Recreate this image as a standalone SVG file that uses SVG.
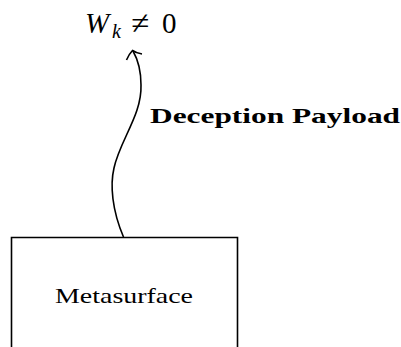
<svg xmlns="http://www.w3.org/2000/svg" width="401" height="347" viewBox="0 0 401 347">
<style>
.t{font-family:"Liberation Serif","DejaVu Serif",serif;fill:#000}
.ln{fill:none;stroke:#000;stroke-width:1.6}
</style>
<rect width="401" height="347" fill="#fff"/>
<g id="target">
<text class="t" x="85" y="33" font-size="29" font-style="italic">W</text>
<text class="t" x="112" y="38" font-size="20" font-style="italic">k</text>
<text class="t" x="131" y="34" font-size="33">≠</text>
<text class="t" x="162" y="33" font-size="29">0</text>
</g>
<g id="metasurface">
<path class="ln" d="M11.5,348 V237.5 H237.5 V348"/>
<text class="t" x="124" y="303" font-size="22" text-anchor="middle" textLength="138" lengthAdjust="spacingAndGlyphs">Metasurface</text>
</g>
<g id="connectors">
<path class="ln" d="M123.5,237 C112,210 110,185 114,168 C120,140 142,115 141,85 C141,70 137,58 133,51"/>
<path class="ln" d="M126.5,60 Q129,54 132.5,50.5 Q136,53 142,54"/>
<text class="t" x="150" y="123" font-size="21" font-weight="bold" textLength="250" lengthAdjust="spacingAndGlyphs">Deception Payload</text>
</g>
</svg>
